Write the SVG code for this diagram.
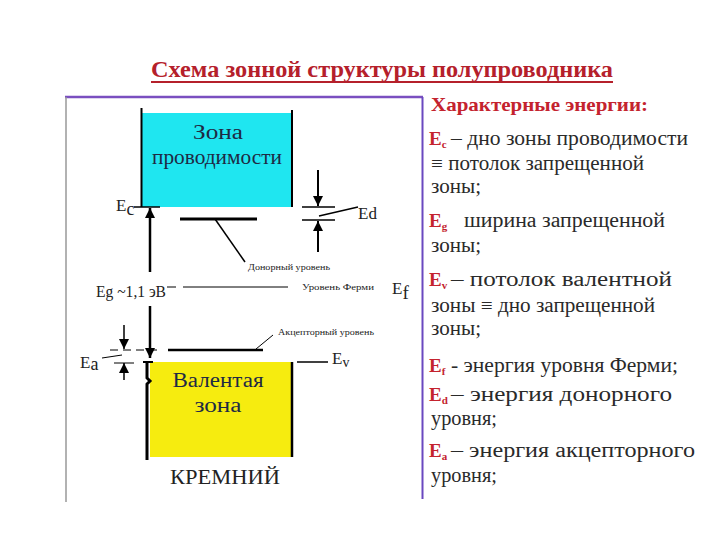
<svg xmlns="http://www.w3.org/2000/svg" width="720" height="540" viewBox="0 0 720 540">
<style>
text{font-family:"Liberation Serif","Tinos","Times New Roman","DejaVu Serif","Noto Serif",serif;}
.band{font-size:20px;fill:#1e2a44;text-anchor:middle;}
.lbl{font-size:17px;fill:#222;}
.sm{font-size:9px;fill:#222;}
.body{font-size:20px;fill:#2a2a2a;}
.key{font-size:19px;font-weight:bold;fill:#c4232e;}
.ln{stroke:#000;fill:none;}
</style>
<defs>
<marker id="ah" viewBox="0 0 10 10" refX="10" refY="5" markerWidth="12" markerHeight="10" markerUnits="userSpaceOnUse" orient="auto">
<path d="M0,0 L10,5 L0,10 z" fill="#000"/>
</marker>
</defs>
<rect width="720" height="540" fill="#fff"/>
<g id="title">
<text x="382" y="77" font-size="23" font-weight="bold" fill="#b5202b" text-anchor="middle" textLength="462" lengthAdjust="spacingAndGlyphs">Схема зонной структуры полупроводника</text>
<line x1="151" y1="82" x2="613" y2="82" stroke="#b5202b" stroke-width="2"/>
</g>
<g id="frame">
<line x1="65" y1="97" x2="423" y2="97" stroke="#7a4fc0" stroke-width="2.5"/>
<line x1="422.5" y1="97" x2="422.5" y2="499" stroke="#6a48c0" stroke-width="2"/>
<line x1="66" y1="97" x2="66" y2="502" stroke="#999" stroke-width="1.5"/>
</g>
<g id="conduction-band">
<rect x="142" y="113" width="150" height="94" fill="#1fe6f0"/>
<line class="ln" x1="141.5" y1="108" x2="141.5" y2="207" stroke-width="2"/>
<line class="ln" x1="292" y1="110" x2="292" y2="207" stroke-width="2"/>
<text class="band" x="218" y="139" textLength="50" lengthAdjust="spacingAndGlyphs">Зона</text>
<text class="band" x="217" y="164" textLength="130" lengthAdjust="spacingAndGlyphs">проводимости</text>
</g>
<g id="valence-band">
<rect x="150" y="362" width="142" height="95" fill="#f6ec0f"/>
<path class="ln" d="M147 362 L147 378 L150 381 L147 384 L147 460" stroke-width="3"/>
<line class="ln" x1="292" y1="362" x2="292" y2="457" stroke-width="2.5"/>
<line class="ln" x1="143" y1="362" x2="153" y2="362" stroke-width="2"/>
<text class="band" x="218" y="387" textLength="91" lengthAdjust="spacingAndGlyphs">Валентая</text>
<text class="band" x="218" y="412" textLength="47" lengthAdjust="spacingAndGlyphs">зона</text>
</g>
<g id="donor-level">
<line class="ln" x1="180" y1="219" x2="257" y2="219" stroke-width="3"/>
<text class="sm" x="248" y="270" textLength="82" lengthAdjust="spacingAndGlyphs">Донорный уровень</text>
</g>
<g id="acceptor-level">
<line class="ln" x1="168" y1="350" x2="263" y2="350" stroke-width="2.5"/>
<text class="sm" x="278" y="335" textLength="96" lengthAdjust="spacingAndGlyphs">Акцепторный уровень</text>
</g>
<g id="fermi-level">
<text class="lbl" x="96" y="297" textLength="70" lengthAdjust="spacingAndGlyphs">Eg ~1,1 эВ</text>
<line class="ln" x1="167" y1="287" x2="176" y2="287" stroke-width="1"/>
<line class="ln" x1="183" y1="287" x2="288" y2="287" stroke-width="1"/>
<text class="sm" x="302" y="290" textLength="72" lengthAdjust="spacingAndGlyphs">Уровень Ферми</text>
<text class="lbl" x="392" y="294" font-size="21">E<tspan font-size="19" dy="5">f</tspan></text>
</g>
<g id="labels">
<text class="lbl" x="116" y="211" font-size="20">E<tspan font-size="18" dy="4">c</tspan></text>
<text class="lbl" x="358" y="219" font-size="19">Ed</text>
<text class="lbl" x="80" y="368" font-size="19">E<tspan font-size="18" dy="2">a</tspan></text>
<text class="lbl" x="332" y="364" font-size="19">E<tspan font-size="14" dy="3">v</tspan></text>
<text x="225" y="484" font-size="22" fill="#222" text-anchor="middle" textLength="110" lengthAdjust="spacingAndGlyphs">КРЕМНИЙ</text>
</g>
<g id="connectors">
<line class="ln" x1="134" y1="207" x2="160" y2="207" stroke-width="1.5"/>
<line class="ln" x1="150" y1="272" x2="150" y2="208" stroke-width="2.5" marker-end="url(#ah)"/>
<line class="ln" x1="150" y1="306" x2="150" y2="358" stroke-width="2.5" marker-end="url(#ah)"/>
<line class="ln" x1="215" y1="219" x2="245" y2="262" stroke-width="1.5"/>
<line class="ln" x1="256" y1="349" x2="273" y2="335" stroke-width="1"/>
<line class="ln" x1="318" y1="170" x2="318" y2="206" stroke-width="2" marker-end="url(#ah)"/>
<line class="ln" x1="318" y1="252" x2="318" y2="221" stroke-width="2" marker-end="url(#ah)"/>
<line class="ln" x1="302" y1="207" x2="335" y2="207" stroke-width="1.5"/>
<line class="ln" x1="302" y1="220" x2="335" y2="220" stroke-width="1.5"/>
<line class="ln" x1="319" y1="216" x2="358" y2="207" stroke-width="1.5"/>
<line class="ln" x1="124" y1="325" x2="124" y2="349" stroke-width="1.5" marker-end="url(#ah)"/>
<line class="ln" x1="124" y1="380" x2="124" y2="363" stroke-width="1.5" marker-end="url(#ah)"/>
<line class="ln" x1="110" y1="350" x2="160" y2="350" stroke-width="1" stroke-dasharray="8,5"/>
<line class="ln" x1="114" y1="363" x2="134" y2="363" stroke-width="1"/>
<line class="ln" x1="102" y1="358" x2="122" y2="355" stroke-width="1"/>
<line class="ln" x1="297" y1="362" x2="328" y2="362" stroke-width="1.5"/>
</g>
<g id="legend">
<text class="key" x="431" y="111" textLength="217" lengthAdjust="spacingAndGlyphs">Характерные энергии:</text>
<text class="key" x="429" y="145">E<tspan font-size="11" dy="3">c</tspan></text>
<text class="body" x="451" y="145" textLength="237" lengthAdjust="spacingAndGlyphs">– дно зоны проводимости</text>
<text class="body" x="431" y="170" textLength="213" lengthAdjust="spacingAndGlyphs">≡ потолок запрещенной</text>
<text class="body" x="431" y="193" textLength="50" lengthAdjust="spacingAndGlyphs">зоны;</text>
<text class="key" x="429" y="227">E<tspan font-size="11" dy="3">g</tspan></text>
<text class="body" x="464" y="227" textLength="201" lengthAdjust="spacingAndGlyphs">ширина запрещенной</text>
<text class="body" x="431" y="252" textLength="50" lengthAdjust="spacingAndGlyphs">зоны;</text>
<text class="key" x="429" y="286">E<tspan font-size="11" dy="3">v</tspan></text>
<text class="body" x="451" y="286" textLength="221" lengthAdjust="spacingAndGlyphs">– потолок валентной</text>
<text class="body" x="431" y="312" textLength="224" lengthAdjust="spacingAndGlyphs">зоны ≡ дно запрещенной</text>
<text class="body" x="431" y="335" textLength="50" lengthAdjust="spacingAndGlyphs">зоны;</text>
<text class="key" x="429" y="372">E<tspan font-size="11" dy="3">f</tspan></text>
<text class="body" x="451" y="372" textLength="227" lengthAdjust="spacingAndGlyphs">- энергия уровня Ферми;</text>
<text class="key" x="429" y="401">E<tspan font-size="11" dy="3">d</tspan></text>
<text class="body" x="451" y="401" textLength="221" lengthAdjust="spacingAndGlyphs">– энергия донорного</text>
<text class="body" x="431" y="425" textLength="66" lengthAdjust="spacingAndGlyphs">уровня;</text>
<text class="key" x="429" y="457">E<tspan font-size="11" dy="3">a</tspan></text>
<text class="body" x="451" y="457" textLength="244" lengthAdjust="spacingAndGlyphs">– энергия акцепторного</text>
<text class="body" x="431" y="482" textLength="66" lengthAdjust="spacingAndGlyphs">уровня;</text>
</g>
</svg>
